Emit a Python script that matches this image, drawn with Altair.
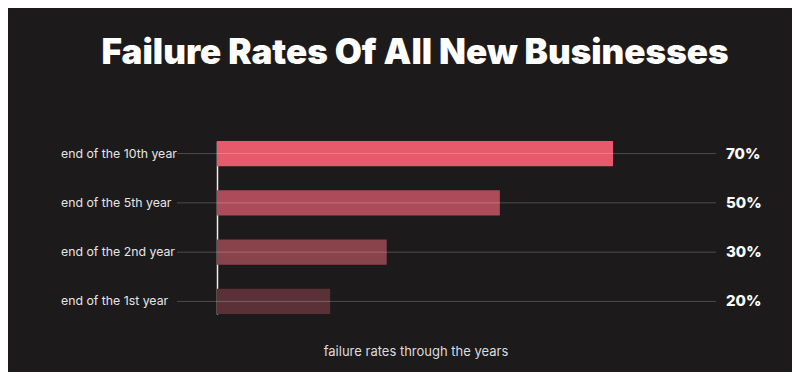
import altair as alt
import pandas as pd

categories = ["end of the 10th year", "end of the 5th year", "end of the 2nd year", "end of the 1st year"]
values = [70, 50, 30, 20]
value_labels = ["70%", "50%", "30%", "20%"]
bar_colors = ["#e65a6b", "#ad4b5a", "#88434b", "#5b3137"]

title_text = "Failure Rates Of All New Businesses"
axis_title = "failure rates through the years"

df = pd.DataFrame({"category": categories, "value": values, "label": value_labels})

W, H = 499, 173

y_enc = alt.Y(
    "category:N",
    sort=categories,
    scale=alt.Scale(paddingInner=0.49, paddingOuter=0),
    axis=alt.Axis(labels=False, ticks=False, title=None, grid=False,
                  domainColor="#ededed", domainWidth=1.5),
)

base = alt.Chart(df)

bars = base.mark_bar(cornerRadius=0).encode(
    x=alt.X("value:Q", scale=alt.Scale(domain=[0, 70], range=[0, 396]), axis=None),
    y=y_enc,
    color=alt.Color("category:N", sort=categories,
                    scale=alt.Scale(domain=categories, range=bar_colors), legend=None),
)

rules = base.mark_rule(color="#ffffff", opacity=0.22, strokeWidth=1).encode(
    y=alt.Y("category:N", sort=categories),
    x=alt.value(-40),
    x2=alt.value(499),
)

left_labels = base.mark_text(align="left", baseline="middle", font="Inter",
                             fontSize=12.3, color="#e6e6e6").encode(
    y=alt.Y("category:N", sort=categories),
    x=alt.value(-156),
    text="category:N",
)

right_labels = base.mark_text(align="left", baseline="middle", font="Inter",
                              fontSize=15, fontWeight=800, color="#ffffff").encode(
    y=alt.Y("category:N", sort=categories),
    x=alt.value(509),
    text="label:N",
)

title_df = pd.DataFrame({"t": [title_text]})
title = alt.Chart(title_df).mark_text(align="center", baseline="middle", font="Inter",
                                      fontSize=35, fontWeight=900, color="#ffffff").encode(
    x=alt.value(198), y=alt.value(-88), text="t:N"
)

xt_df = pd.DataFrame({"t": [axis_title]})
xtitle = alt.Chart(xt_df).mark_text(align="center", baseline="middle", font="Inter",
                                    fontSize=13, color="#dcdcdc").encode(
    x=alt.value(199), y=alt.value(211), text="t:N"
)

chart = alt.layer(bars, rules, left_labels, right_labels, title, xtitle).properties(
    width=W, height=H,
    background="#1c1a1b",
    autosize=alt.AutoSizeParams(type="none"),
    padding={"left": 209, "top": 133, "right": 76, "bottom": 58},
).configure_view(stroke=None)

chart.save("out.html", embed_options={"renderer": "svg", "actions": False})
